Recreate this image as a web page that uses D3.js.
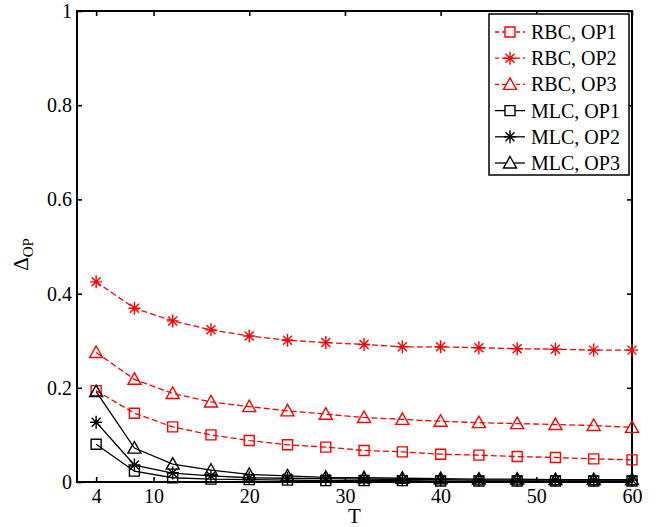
<html>
<head>
  <script src="https://cdnjs.cloudflare.com/ajax/libs/d3/7.8.5/d3.min.js"></script>
  <style>
    body { margin: 0; background: #fff; }
  </style>
</head>
<body>
  <div id="chart"></div>
  <script>
    // T values
    var tValues = [4, 8, 12, 16, 20, 24, 28, 32, 36, 40, 44, 48, 52, 56, 60];
    var xTicks = [4, 10, 20, 30, 40, 50, 60];
    var yTicks = [0, 0.2, 0.4, 0.6, 0.8, 1];

    var rbcOp1 = [0.194, 0.146, 0.117, 0.100, 0.088, 0.079, 0.074, 0.067, 0.064, 0.059, 0.057, 0.054, 0.052, 0.049, 0.047];
    var rbcOp2 = [0.425, 0.369, 0.342, 0.323, 0.310, 0.301, 0.296, 0.292, 0.287, 0.287, 0.285, 0.283, 0.282, 0.280, 0.280];
    var rbcOp3 = [0.275, 0.218, 0.188, 0.170, 0.160, 0.151, 0.144, 0.137, 0.133, 0.129, 0.126, 0.124, 0.122, 0.120, 0.116];
    var mlcOp1 = [0.080, 0.023, 0.009, 0.006, 0.005, 0.004, 0.003, 0.003, 0.003, 0.002, 0.002, 0.002, 0.002, 0.002, 0.002];
    var mlcOp2 = [0.127, 0.036, 0.019, 0.013, 0.009, 0.008, 0.007, 0.006, 0.005, 0.005, 0.004, 0.004, 0.004, 0.004, 0.004];
    var mlcOp3 = [0.192, 0.072, 0.038, 0.025, 0.016, 0.013, 0.010, 0.009, 0.008, 0.007, 0.006, 0.006, 0.005, 0.005, 0.005];

    var series = [
      { name: "RBC, OP1", values: rbcOp1, color: "#ff0000", dash: "6,3", marker: "square" },
      { name: "RBC, OP2", values: rbcOp2, color: "#ff0000", dash: "6,3", marker: "star" },
      { name: "RBC, OP3", values: rbcOp3, color: "#ff0000", dash: "6,3", marker: "triangle" },
      { name: "MLC, OP1", values: mlcOp1, color: "#000000", dash: null, marker: "square" },
      { name: "MLC, OP2", values: mlcOp2, color: "#000000", dash: null, marker: "star" },
      { name: "MLC, OP3", values: mlcOp3, color: "#000000", dash: null, marker: "triangle" }
    ];

    var serif = "'Liberation Serif', 'Times New Roman', serif";
    var svgWidth = 667, svgHeight = 527;
    var margin = { top: 11, right: 35, bottom: 45, left: 77 };
    var width = svgWidth - margin.left - margin.right;
    var height = svgHeight - margin.top - margin.bottom;

    var svg = d3.select("#chart").append("svg")
      .attr("width", svgWidth)
      .attr("height", svgHeight)
      .attr("font-family", serif);
    var chart = svg.append("g")
      .attr("transform", "translate(" + margin.left + "," + margin.top + ")");

    var xScale = d3.scaleLinear().domain([2, 60]).range([0, width]);
    var yScale = d3.scaleLinear().domain([0, 1]).range([height, 0]);

    // axes with inward ticks on all four sides
    chart.append("g").attr("class", "axis")
      .attr("transform", "translate(0," + height + ")")
      .call(d3.axisBottom(xScale).tickValues(xTicks).tickSizeInner(-5).tickSizeOuter(0).tickPadding(7));
    chart.append("g").attr("class", "axis")
      .call(d3.axisLeft(yScale).tickValues(yTicks).tickSizeInner(-5).tickSizeOuter(0).tickPadding(5).tickFormat(d3.format("")));
    chart.append("g").attr("class", "axis")
      .call(d3.axisTop(xScale).tickValues(xTicks).tickSizeInner(-5).tickSizeOuter(0).tickFormat(""));
    chart.append("g").attr("class", "axis")
      .attr("transform", "translate(" + width + ",0)")
      .call(d3.axisRight(yScale).tickValues(yTicks).tickSizeInner(-5).tickSizeOuter(0).tickFormat(""));
    chart.selectAll(".axis").attr("font-family", serif).attr("font-size", 20);
    chart.selectAll(".axis text").attr("fill", "#000");
    chart.selectAll(".axis path, .axis line").attr("stroke", "#000").attr("stroke-width", 1.6);
    chart.selectAll(".axis .domain").remove();
    chart.append("rect")
      .attr("width", width).attr("height", height)
      .attr("fill", "none").attr("stroke", "#000").attr("stroke-width", 2);

    function markerPath(type) {
      if (type === "square") return "M-5,-5H5V5H-5Z";
      if (type === "triangle") return "M0,-6.5L6.5,5L-6.5,5Z";
      return "M-6,0H6M0,-6.5V6.5M-4.5,-4.5L4.5,4.5M-4.5,4.5L4.5,-4.5";
    }

    var line = d3.line()
      .x(function(d) { return xScale(d[0]); })
      .y(function(d) { return yScale(d[1]); });

    series.forEach(function(s) {
      var pts = tValues.map(function(t, i) { return [t, s.values[i]]; });
      chart.append("path")
        .datum(pts)
        .attr("d", line)
        .attr("fill", "none")
        .attr("stroke", s.color)
        .attr("stroke-width", 1.3)
        .attr("stroke-dasharray", s.dash);
      chart.selectAll(null)
        .data(pts)
        .enter().append("path")
        .attr("transform", function(d) { return "translate(" + xScale(d[0]) + "," + yScale(d[1]) + ")"; })
        .attr("d", markerPath(s.marker))
        .attr("fill", "none")
        .attr("stroke", s.color)
        .attr("stroke-width", 1.4);
    });

    // axis titles
    svg.append("text")
      .attr("x", margin.left + width / 2)
      .attr("y", 523)
      .attr("text-anchor", "middle")
      .style("font-size", "21px")
      .text("T");
    var yt = svg.append("text")
      .attr("transform", "translate(28," + (margin.top + height / 2 + 8) + ") rotate(-90)")
      .attr("text-anchor", "middle")
      .style("font-size", "21px");
    yt.append("tspan").text("\u0394");
    yt.append("tspan").attr("dy", 5).style("font-size", "15px").text("OP");

    // legend
    var legend = svg.append("g").attr("transform", "translate(489,14)");
    legend.append("rect")
      .attr("width", 140).attr("height", 161)
      .attr("fill", "#fff").attr("stroke", "#000").attr("stroke-width", 1.5);
    series.forEach(function(s, i) {
      var y = 18 + i * 26.2;
      var row = legend.append("g").attr("transform", "translate(0," + y + ")");
      row.append("line")
        .attr("x1", 6).attr("x2", 36)
        .attr("stroke", s.color).attr("stroke-width", 1.3)
        .attr("stroke-dasharray", s.dash ? "4,3" : null);
      row.append("path")
        .attr("transform", "translate(21,0)")
        .attr("d", markerPath(s.marker))
        .attr("fill", s.marker === "star" ? "none" : "#fff")
        .attr("stroke", s.color).attr("stroke-width", 1.4);
      row.append("text")
        .attr("x", 42).attr("y", 7)
        .style("font-size", "20px")
        .text(s.name);
    });
  </script>
</body>
</html>
